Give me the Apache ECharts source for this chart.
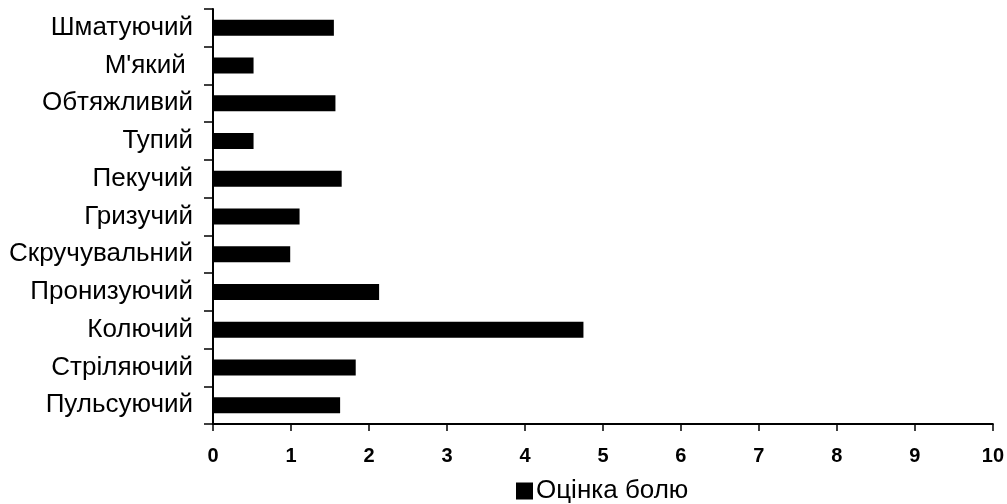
<!DOCTYPE html>
<html lang="uk">
<head>
    <meta charset="UTF-8">
    <title>Оцінка болю</title>
    <script src="https://cdn.jsdelivr.net/npm/echarts@6/dist/echarts.min.js"></script>
</head>
<body style="margin:0">
    <div id="ec" style="width:1007px;height:504px"></div>
</body>
<script>
    // bottom to top, as on the category axis
    var categories = ['Пульсуючий', 'Стріляючий', 'Колючий', 'Пронизуючий', 'Скручувальний',
        'Гризучий', 'Пекучий', 'Тупий', 'Обтяжливий', "М'який ", 'Шматуючий']
    var painScores = [1.63, 1.83, 4.75, 2.13, 0.99, 1.11, 1.65, 0.52, 1.57, 0.52, 1.55]
    var seriesName = 'Оцінка болю'

    var font = 'Liberation Sans, Arial, sans-serif'
    var mychart = echarts.init(document.getElementById('ec'))
    var options = {
        animation: false,
        textStyle: { fontFamily: font },
        grid: { left: 213, right: 14, top: 9, bottom: 80, containLabel: false },
        legend: {
            left: 516, top: 478, padding: 0,
            itemWidth: 17, itemHeight: 17, itemGap: 10,
            icon: 'rect',
            textStyle: { fontSize: 26, color: '#000', fontFamily: font, padding: [0, 0, 0, -2] },
            data: [seriesName]
        },
        xAxis: {
            type: 'value',
            min: 0, max: 10, interval: 1,
            splitLine: { show: false },
            axisLine: { show: true, lineStyle: { color: '#000', width: 2 } },
            axisTick: { show: true, length: 7, lineStyle: { color: '#000', width: 1.5 } },
            axisLabel: { color: '#000', fontSize: 20, fontWeight: 'bold', margin: 22, fontFamily: font }
        },
        yAxis: {
            type: 'category',
            data: categories,
            axisLine: { show: true, lineStyle: { color: '#000', width: 2 } },
            axisTick: { show: true, length: 9, lineStyle: { color: '#000', width: 1.5 } },
            axisLabel: { color: '#000', fontSize: 26, margin: 20, fontFamily: font }
        },
        series: [{
            name: seriesName,
            type: 'bar',
            data: painScores,
            barWidth: 16,
            itemStyle: { color: '#000' }
        }]
    }
    mychart.setOption(options)
</script>
</html>
